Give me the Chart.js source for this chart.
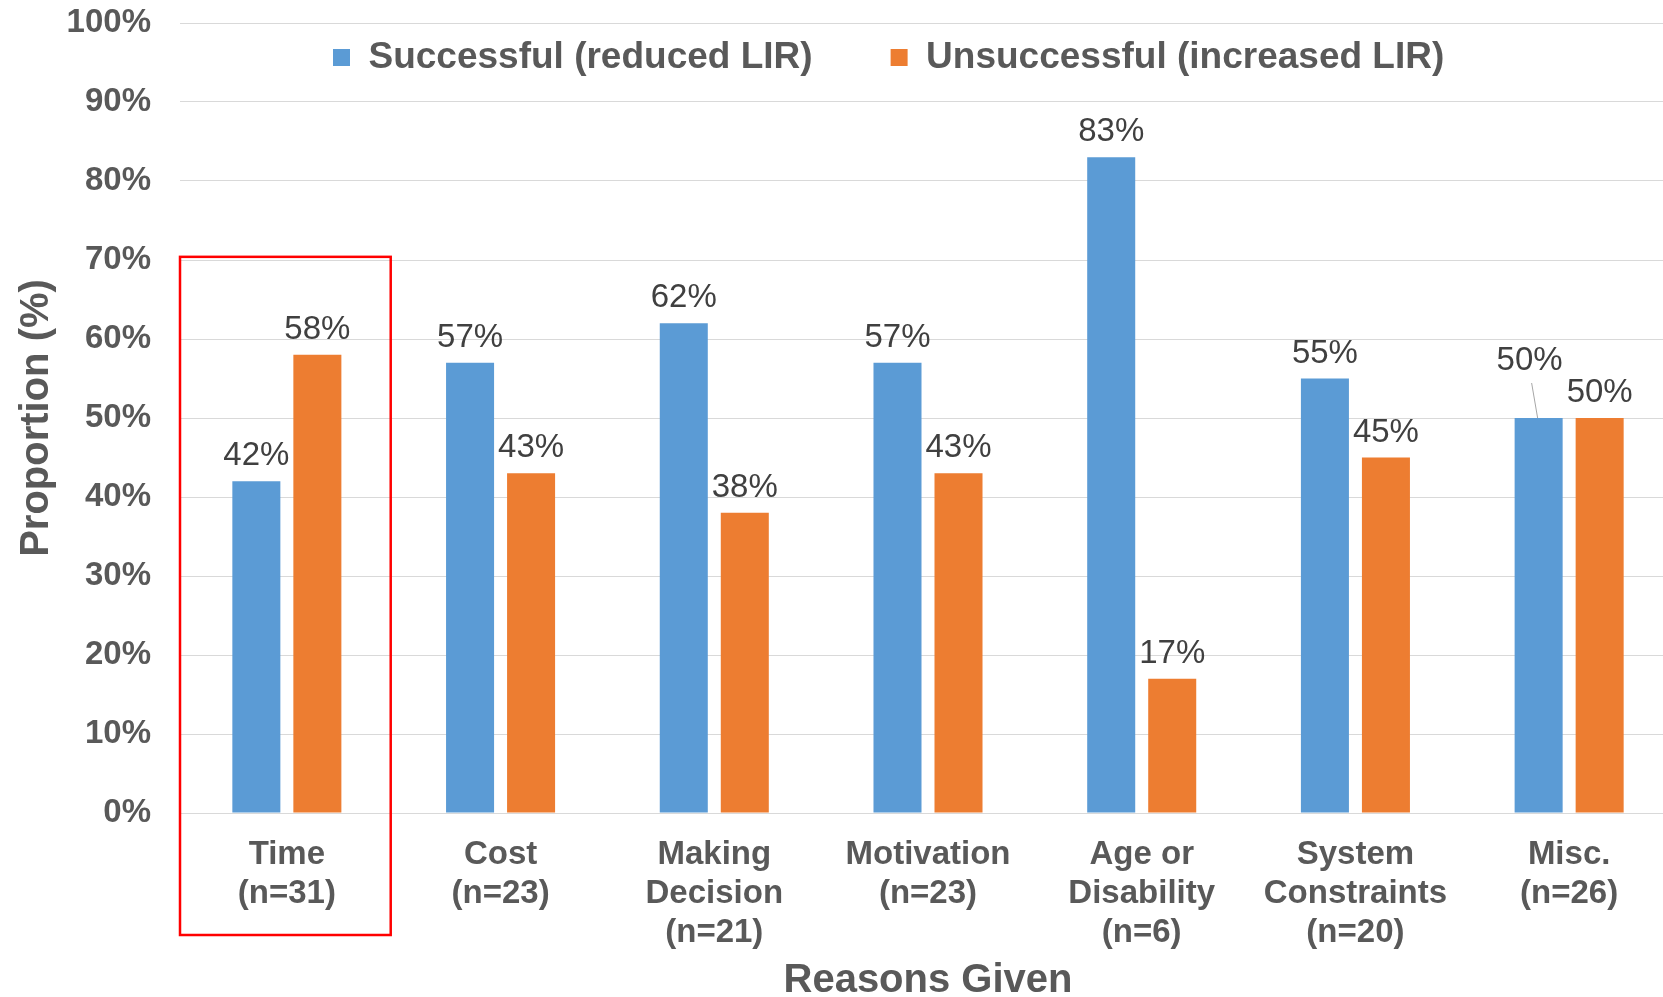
<!DOCTYPE html>
<html>
<head>
<meta charset="utf-8">
<script src="https://cdn.jsdelivr.net/npm/chart.js@4.4.1/dist/chart.umd.min.js"></script>
<style>
  html, body { margin: 0; padding: 0; background: #fff; overflow: hidden; }
</style>
</head>
<body>
<canvas id="grafico" width="1676" height="997"></canvas>
<script>
// Dados
const categorias = [
    ['Time', '(n=31)'],
    ['Cost', '(n=23)'],
    ['Making', 'Decision', '(n=21)'],
    ['Motivation', '(n=23)'],
    ['Age or', 'Disability', '(n=6)'],
    ['System', 'Constraints', '(n=20)'],
    ['Misc.', '(n=26)']
];
const sucesso = [42, 57, 62, 57, 83, 55, 50];
const insucesso = [58, 43, 38, 43, 17, 45, 50];
const marcasY = [0, 10, 20, 30, 40, 50, 60, 70, 80, 90, 100];

const fonte = '"Liberation Sans", Arial, sans-serif';
const cinza = '#595959';

// Rótulo deslocado (Misc., barra azul) com linha de chamada
const deslocamentos = [{ dataset: 0, index: 6, dx: -9, dy: -32 }];
// Caixa vermelha em volta da categoria "Time"
const destaque = { categoria: 'Time', topo: 70.4 };

// Legenda dentro da área do gráfico
const legendaPlugin = {
    id: 'legendaDentro',
    beforeLayout(chart) {
        const leg = chart.legend;
        if (leg && !leg._fitAjustado) {
            const fitOriginal = leg.fit;
            leg.fit = function () { fitOriginal.call(this); this.height = 0; };
            leg._fitAjustado = true;
        }
    },
    afterLayout(chart) {
        const leg = chart.legend;
        leg.left = 255;
        leg.right = chart.width;
        leg.top = -39;
        leg.bottom = 130;
    }
};

// Valores acima das barras
const rotulosPlugin = {
    id: 'rotulos',
    afterDatasetsDraw(chart) {
        const ctx = chart.ctx;
        ctx.save();
        ctx.font = '33px ' + fonte;
        ctx.textAlign = 'center';
        ctx.textBaseline = 'middle';
        chart.data.datasets.forEach((ds, di) => {
            chart.getDatasetMeta(di).data.forEach((barra, i) => {
                let x = barra.x;
                let y = barra.y - 25;
                const ajuste = deslocamentos.find(d => d.dataset === di && d.index === i);
                if (ajuste) {
                    x += ajuste.dx;
                    y += ajuste.dy;
                    ctx.strokeStyle = '#a6a6a6';
                    ctx.lineWidth = 1;
                    ctx.beginPath();
                    ctx.moveTo(x + 2, y + 22);
                    ctx.lineTo(barra.x - 1, barra.y);
                    ctx.stroke();
                }
                ctx.fillStyle = '#404040';
                ctx.fillText(ds.data[i] + '%', x, y);
            });
        });
        ctx.restore();
    }
};

const destaquePlugin = {
    id: 'destaque',
    afterDraw(chart) {
        const xs = chart.scales.x, ys = chart.scales.y;
        const idx = categorias.findIndex(c => c[0] === destaque.categoria);
        const meio = xs.getPixelForValue(idx);
        const meia = xs.width / categorias.length / 2;
        const topo = ys.getPixelForValue(destaque.topo);
        const baixo = xs.bottom - 62;
        const ctx = chart.ctx;
        ctx.save();
        ctx.strokeStyle = '#ff0000';
        ctx.lineWidth = 2.5;
        ctx.strokeRect(meio - meia, topo, 2 * meia - 3, baixo - topo);
        ctx.restore();
    }
};

const ctx = document.getElementById('grafico').getContext('2d');
new Chart(ctx, {
    type: 'bar',
    data: {
        labels: categorias,
        datasets: [{
            label: 'Successful (reduced LIR)',
            data: sucesso,
            backgroundColor: '#5b9bd5',
            barPercentage: 0.787,
            categoryPercentage: 0.571
        }, {
            label: 'Unsuccessful (increased LIR)',
            data: insucesso,
            backgroundColor: '#ed7d31',
            barPercentage: 0.787,
            categoryPercentage: 0.571
        }]
    },
    options: {
        responsive: false,
        animation: false,
        layout: { padding: { top: 23, right: 0, bottom: 0, left: 0 } },
        plugins: {
            legend: {
                position: 'top',
                align: 'start',
                labels: {
                    boxWidth: 17,
                    boxHeight: 17,
                    padding: 78,
                    color: cinza,
                    font: { family: fonte, size: 37, weight: 'bold' }
                }
            },
            tooltip: { enabled: false }
        },
        scales: {
            x: {
                grid: { display: false, drawTicks: false },
                border: { display: false },
                afterFit: s => { s.height = 184; s.paddingLeft = 0; s.paddingRight = 0; },
                ticks: {
                    color: cinza,
                    font: { family: fonte, size: 33, weight: 'bold', lineHeight: 1.17 },
                    padding: 23,
                    maxRotation: 0,
                    autoSkip: false
                },
                title: {
                    display: true,
                    text: 'Reasons Given',
                    color: cinza,
                    font: { family: fonte, size: 40, weight: 'bold', lineHeight: 1 },
                    padding: { top: 6, bottom: -4 }
                }
            },
            y: {
                min: 0,
                max: 100,
                afterBuildTicks: axis => { axis.ticks = marcasY.map(v => ({ value: v })); },
                afterFit: s => { s.width = 180; s.paddingTop = 0; s.paddingBottom = 0; },
                grid: { color: '#d9d9d9', lineWidth: 1, drawTicks: false },
                border: { display: false },
                ticks: {
                    color: cinza,
                    font: { family: fonte, size: 33, weight: 'bold' },
                    padding: 29,
                    callback: v => v + '%'
                },
                title: {
                    display: true,
                    text: 'Proportion (%)',
                    color: cinza,
                    font: { family: fonte, size: 40, weight: 'bold', lineHeight: 1 },
                    padding: { top: 17, bottom: 9 }
                }
            }
        }
    },
    plugins: [legendaPlugin, rotulosPlugin, destaquePlugin]
});
</script>
</body>
</html>
